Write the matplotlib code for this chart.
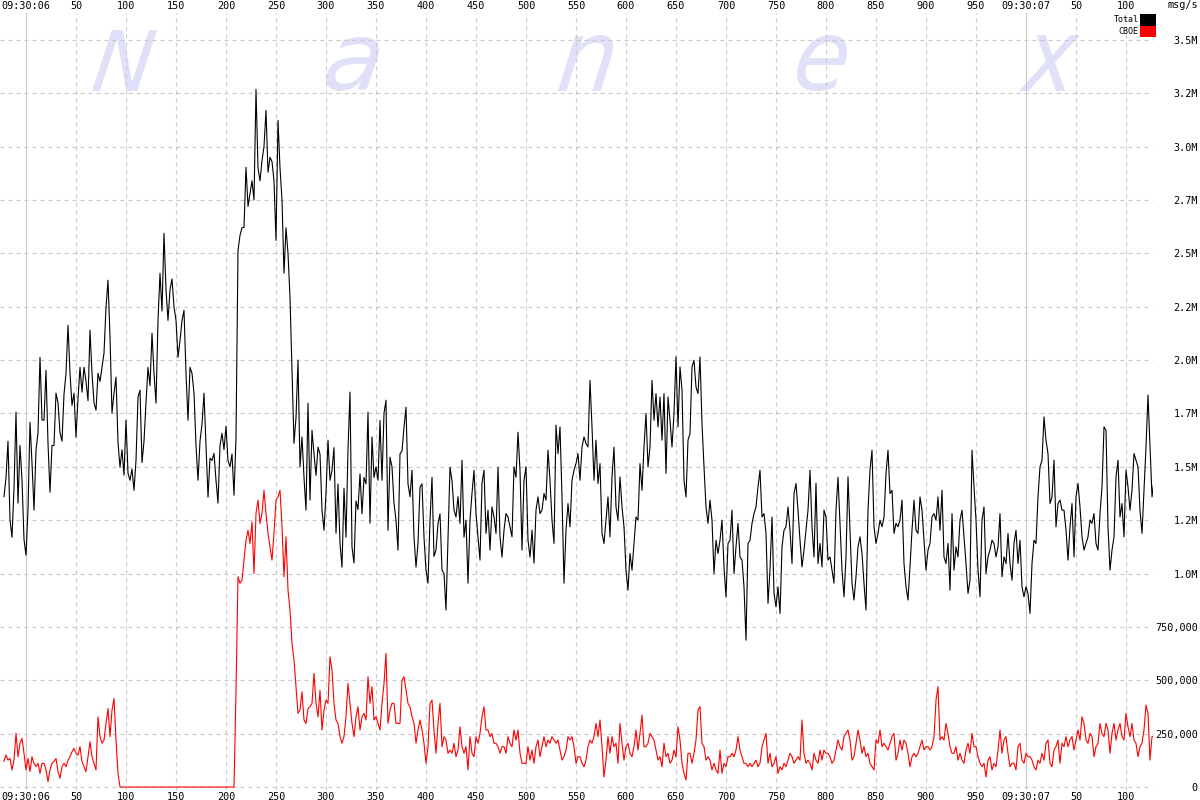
import numpy as np
import matplotlib
matplotlib.use("Agg")
import matplotlib.pyplot as plt
from matplotlib.patches import Patch, PathPatch
from matplotlib.textpath import TextPath
from matplotlib.font_manager import FontProperties
from matplotlib.transforms import Affine2D

# message rates in thousand msg/s, one value every 2 ms starting at -22 ms
t_start = -22
t_step = 2

total_k = [
    1360, 1450, 1620, 1250, 1170, 1400, 1756, 1330, 1600, 1437,  # -22
    1160, 1086, 1300, 1709, 1517, 1297, 1578, 1660, 2013, 1720,  # -2
    1718, 1952, 1610, 1381, 1600, 1600, 1845, 1800, 1660, 1620,  # 18
    1840, 1938, 2163, 1938, 1788, 1845, 1639, 1820, 1966, 1850,  # 38
    1966, 1900, 1810, 2140, 1938, 1800, 1765, 1938, 1900, 1966,  # 58
    2032, 2247, 2374, 2110, 1751, 1845, 1920, 1615, 1498, 1580,  # 78
    1461, 1718, 1470, 1437, 1490, 1390, 1530, 1826, 1859, 1520,  # 98
    1620, 1800, 1966, 1880, 2126, 1938, 1798, 2186, 2407, 2230,  # 118
    2594, 2330, 2186, 2330, 2380, 2250, 2186, 2013, 2090, 2186,  # 138
    2233, 1938, 1718, 1966, 1938, 1845, 1600, 1437, 1620, 1700,  # 158
    1845, 1600, 1358, 1540, 1530, 1563, 1437, 1330, 1600, 1657,  # 178
    1580, 1690, 1530, 1500, 1560, 1367, 1640, 2514, 2584, 2620,  # 198
    2622, 2903, 2720, 2780, 2840, 2750, 3268, 2900, 2840, 2935,  # 218
    3000, 3170, 2880, 2950, 2930, 2840, 2561, 3123, 2900, 2750,  # 238
    2407, 2620, 2500, 2294, 1950, 1610, 1730, 2000, 1500, 1640,  # 258
    1451, 1297, 1798, 1344, 1671, 1560, 1460, 1592, 1560, 1297,  # 278
    1203, 1375, 1625, 1437, 1484, 1590, 1189, 1420, 1142, 1030,  # 298
    1400, 1170, 1580, 1850, 1124, 1049, 1340, 1300, 1467, 1280,  # 318
    1450, 1420, 1756, 1236, 1640, 1450, 1500, 1437, 1717, 1437,  # 338
    1751, 1812, 1203, 1545, 1500, 1330, 1250, 1110, 1560, 1575,  # 358
    1685, 1779, 1420, 1360, 1484, 1170, 1030, 1140, 1405, 1420,  # 378
    1170, 1016, 955, 1250, 1451, 1080, 1110, 1235, 1280, 1016,  # 398
    1000, 829, 1170, 1498, 1435, 1297, 1265, 1360, 1235, 1531,  # 418
    1170, 1250, 955, 1250, 1376, 1484, 1281, 1172, 1063, 1423,  # 438
    1484, 1188, 1297, 1110, 1312, 1265, 1188, 1498, 1172, 1077,  # 458
    1203, 1281, 1265, 1219, 1172, 1500, 1451, 1662, 1484, 1110,  # 478
    1437, 1500, 1156, 1077, 1203, 1049, 1297, 1359, 1281, 1297,  # 498
    1375, 1344, 1578, 1437, 1250, 1141, 1695, 1562, 1687, 1359,  # 518
    955, 1203, 1328, 1219, 1437, 1484, 1515, 1562, 1437, 1593,  # 538
    1640, 1609, 1593, 1905, 1687, 1437, 1625, 1422, 1515, 1189,  # 558
    1141, 1250, 1359, 1172, 1453, 1592, 1312, 1250, 1453, 1312,  # 578
    1219, 1016, 922, 1094, 1016, 1141, 1265, 1250, 1515, 1390,  # 598
    1593, 1750, 1500, 1593, 1905, 1718, 1843, 1687, 1827, 1625,  # 618
    1843, 1469, 1827, 1718, 1593, 1750, 2015, 1687, 1968, 1859,  # 638
    1437, 1359, 1625, 1656, 1968, 1999, 1874, 1843, 2015, 1703,  # 658
    1500, 1312, 1235, 1344, 1250, 1000, 1156, 1094, 1156, 1250,  # 678
    1031, 891, 1141, 1156, 1297, 1000, 1125, 1235, 1078, 1063,  # 698
    938, 688, 1141, 1156, 1235, 1281, 1312, 1406, 1484, 1265,  # 718
    1281, 1188, 860, 1016, 1265, 907, 844, 938, 813, 1125,  # 738
    1203, 1219, 1312, 1203, 1047, 1375, 1422, 1297, 1156, 1031,  # 758
    1110, 1203, 1297, 1484, 1219, 1078, 1423, 1047, 1141, 1031,  # 778
    1297, 1265, 1063, 1078, 1016, 955, 1297, 1451, 1235, 1016,  # 798
    891, 1078, 1453, 1203, 954, 876, 985, 1125, 1172, 1094,  # 818
    954, 829, 1297, 1484, 1578, 1219, 1141, 1188, 1250, 1219,  # 838
    1265, 1468, 1578, 1375, 1390, 1188, 1235, 1219, 1250, 1344,  # 858
    1047, 938, 876, 1031, 1203, 1344, 1203, 1188, 1359, 1297,  # 878
    1156, 1016, 1110, 1141, 1265, 1281, 1250, 1359, 1203, 1390,  # 898
    1078, 1047, 1141, 922, 1281, 1016, 1125, 1078, 1250, 1297,  # 918
    1172, 1047, 907, 969, 1578, 1406, 1250, 1016, 891, 1250,  # 938
    1312, 1000, 1078, 1110, 1156, 1141, 1078, 1125, 1281, 985,  # 958
    1078, 1047, 1188, 1047, 969, 1141, 1203, 1047, 1156, 938,  # 978
    891, 938, 907, 813, 1047, 1156, 1141, 1359, 1500, 1531,  # 998
    1734, 1624, 1562, 1328, 1359, 1531, 1219, 1328, 1344, 1297,  # 1018
    1297, 1203, 1063, 1219, 1328, 1078, 1359, 1422, 1312, 1172,  # 1038
    1110, 1141, 1172, 1250, 1235, 1281, 1141, 1110, 1281, 1406,  # 1058
    1687, 1671, 1219, 1016, 1110, 1172, 1453, 1531, 1265, 1328,  # 1078
    1172, 1484, 1406, 1297, 1390, 1562, 1531, 1500, 1297, 1188,  # 1098
    1390, 1593, 1836, 1593, 1359, 1437,  # 1118
]

cboe_k = [
    120, 150, 126, 134, 80, 126, 251, 142, 205, 228,  # -22
    158, 80, 134, 72, 142, 111, 95, 111, 64, 111,  # -2
    111, 80, 25, 80, 111, 119, 134, 72, 41, 95,  # 18
    111, 95, 126, 142, 165, 181, 158, 150, 189, 119,  # 38
    95, 72, 142, 212, 142, 111, 80, 329, 236, 205,  # 58
    220, 298, 368, 236, 360, 415, 220, 64, 0, 0,  # 78
    0, 0, 0, 0, 0, 0, 0, 0, 0, 0,  # 98
    0, 0, 0, 0, 0, 0, 0, 0, 0, 0,  # 118
    0, 0, 0, 0, 0, 0, 0, 0, 0, 0,  # 138
    0, 0, 0, 0, 0, 0, 0, 0, 0, 0,  # 158
    0, 0, 0, 0, 0, 0, 0, 0, 0, 0,  # 178
    0, 0, 0, 0, 0, 0, 450, 985, 954, 969,  # 198
    1063, 1156, 1203, 1141, 1242, 1000, 1281, 1344, 1235, 1281,  # 218
    1390, 1281, 1188, 1125, 1063, 1188, 1344, 1359, 1390, 1219,  # 238
    985, 1172, 922, 829, 673, 595, 470, 345, 360, 446,  # 258
    314, 298, 368, 376, 392, 532, 392, 329, 453, 267,  # 278
    360, 407, 392, 610, 548, 392, 314, 298, 236, 205,  # 298
    236, 329, 485, 392, 298, 236, 329, 376, 267, 329,  # 318
    345, 314, 517, 392, 470, 314, 329, 298, 267, 392,  # 338
    485, 626, 298, 360, 392, 392, 298, 298, 298, 501,  # 358
    517, 453, 392, 376, 329, 298, 205, 267, 314, 267,  # 378
    205, 111, 189, 392, 407, 267, 158, 298, 392, 189,  # 398
    236, 220, 158, 173, 158, 205, 142, 173, 282, 189,  # 418
    158, 189, 80, 236, 158, 142, 236, 205, 251, 329,  # 438
    376, 267, 267, 236, 251, 205, 205, 189, 158, 189,  # 458
    189, 158, 236, 205, 189, 267, 220, 267, 158, 111,  # 478
    111, 111, 189, 126, 173, 111, 189, 220, 142, 189,  # 498
    236, 189, 220, 205, 236, 220, 205, 220, 173, 126,  # 518
    142, 173, 236, 220, 236, 189, 111, 142, 142, 111,  # 538
    95, 126, 189, 220, 205, 236, 298, 236, 314, 189,  # 558
    47, 126, 236, 158, 236, 189, 205, 111, 298, 205,  # 578
    126, 189, 205, 158, 142, 189, 267, 173, 251, 337,  # 598
    189, 189, 205, 251, 236, 220, 173, 126, 142, 95,  # 618
    205, 142, 158, 111, 126, 173, 142, 282, 220, 111,  # 638
    64, 33, 158, 158, 111, 158, 220, 360, 376, 205,  # 658
    189, 126, 142, 126, 80, 111, 80, 64, 173, 64,  # 678
    111, 95, 142, 142, 158, 142, 173, 236, 173, 142,  # 698
    111, 111, 95, 111, 95, 111, 126, 95, 111, 189,  # 718
    220, 251, 111, 158, 95, 111, 142, 64, 95, 80,  # 738
    111, 95, 126, 158, 142, 111, 126, 142, 126, 314,  # 758
    158, 111, 126, 111, 80, 158, 126, 111, 173, 126,  # 778
    173, 158, 158, 142, 111, 126, 173, 220, 189, 173,  # 798
    236, 251, 267, 220, 126, 142, 205, 267, 220, 158,  # 818
    189, 142, 158, 111, 95, 80, 220, 205, 267, 189,  # 838
    205, 189, 173, 205, 236, 251, 126, 158, 220, 173,  # 858
    220, 205, 158, 95, 142, 158, 142, 158, 189, 220,  # 878
    173, 189, 189, 173, 189, 236, 407, 470, 220, 236,  # 898
    220, 298, 251, 189, 158, 158, 189, 126, 158, 126,  # 918
    111, 173, 205, 158, 251, 189, 189, 142, 111, 95,  # 938
    111, 47, 126, 142, 80, 111, 95, 173, 267, 158,  # 958
    220, 236, 158, 95, 111, 111, 80, 189, 205, 126,  # 978
    111, 158, 142, 142, 126, 95, 80, 126, 111, 158,  # 998
    126, 205, 220, 111, 95, 173, 189, 220, 111, 205,  # 1018
    189, 236, 189, 220, 236, 173, 220, 267, 220, 329,  # 1038
    298, 220, 205, 251, 236, 142, 189, 205, 298, 251,  # 1058
    236, 298, 267, 158, 251, 298, 220, 267, 298, 236,  # 1078
    220, 345, 282, 236, 298, 220, 205, 142, 189, 205,  # 1098
    267, 384, 345, 126, 236, 236,  # 1118
]

x_ticks = [0, 50, 100, 150, 200, 250, 300, 350, 400, 450, 500, 550, 600,
           650, 700, 750, 800, 850, 900, 950, 1000, 1050, 1100]
x_labels = ['09:30:06', '50', '100', '150', '200', '250', '300', '350', '400',
            '450', '500', '550', '600', '650', '700', '750', '800', '850',
            '900', '950', '09:30:07', '50', '100']
y_ticks = [0, 250000, 500000, 750000, 1000000, 1250000, 1500000, 1750000,
           2000000, 2250000, 2500000, 2750000, 3000000, 3250000, 3500000]
y_labels = ['0', '250,000', '500,000', '750,000', '1.0M', '1.2M', '1.5M',
            '1.7M', '2.0M', '2.2M', '2.5M', '2.7M', '3.0M', '3.2M', '3.5M']

series_names = ['Total', 'CBOE']
series_colors = ['black', 'red']

plt.rcParams['font.family'] = 'DejaVu Sans Mono'

t_total = t_start + t_step * np.arange(len(total_k))
t_cboe = t_start + t_step * np.arange(len(cboe_k))

fig = plt.figure(figsize=(12, 8), dpi=100)
fig.patch.set_facecolor('white')
ax = fig.add_axes([0, 10 / 800, 1153 / 1200, 777 / 800])
ax.set_facecolor('none')

####### watermark #######
wm_color = '#e0e0f8'
fp = FontProperties(family='DejaVu Sans', style='italic')
wm_boxes = [('N', 92, 157, 30), ('a', 326, 379, 37), ('n', 558, 613, 35),
            ('e', 797, 847, 35), ('x', 1019, 1080, 35)]
for ch, xl, xr, yt in wm_boxes:
    p = TextPath((0, 0), ch, size=100, prop=fp)
    p = Affine2D().skew_deg(8, 0).transform_path(p)
    bb = p.get_extents()
    tr = (Affine2D().translate(-bb.x0, -bb.y0)
          .scale((xr - xl) / bb.width, (91 - yt) / bb.height)
          .translate(xl, 800 - 91)
          .scale(1 / 1200, 1 / 800))
    fig.add_artist(PathPatch(tr.transform_path(p), transform=fig.transFigure,
                             facecolor=wm_color, edgecolor='none', zorder=-1))

####### grid #######
grid_col = '#c8c8c8'
for x in x_ticks:
    if x in (0, 1000):
        ax.axvline(x, color=grid_col, lw=0.8, zorder=1)
    else:
        ax.axvline(x, color=grid_col, lw=0.8, ls=(0, (3.6, 3.6)), zorder=1)
for y in y_ticks:
    ax.axhline(y, color=grid_col, lw=0.8, ls=(0, (3.6, 3.6)), zorder=1)

####### series #######
ax.plot(t_total, np.array(total_k) * 1000, color=series_colors[0], lw=0.8, zorder=3)
ax.plot(t_cboe, np.array(cboe_k) * 1000, color=series_colors[1], lw=0.8, zorder=4)

ax.set_xlim(-26, 1127)
ax.set_ylim(-14000, 3626000)

for s in ax.spines.values():
    s.set_visible(False)

ax.set_xticks(x_ticks, x_labels)
ax.tick_params(axis='x', length=0, pad=1.5, labelsize=7.3,
               top=True, labeltop=True, bottom=True, labelbottom=True)
ax.yaxis.tick_right()
ax.set_yticks(y_ticks, y_labels)
ax.tick_params(axis='y', length=0, pad=32.4, labelsize=7.3)
plt.setp(ax.get_yticklabels(), ha='right')

fig.text(1198 / 1200, 1 - 5 / 800, 'msg/s', ha='right', va='center', fontsize=7.3)

handles = [Patch(facecolor=c, edgecolor='none', label=n)
           for n, c in zip(series_names, series_colors)]
fig.legend(handles=handles, loc='upper right',
           bbox_to_anchor=(1156 / 1200, 1 - 14 / 800),
           frameon=False, markerfirst=False, fontsize=6,
           handlelength=1.9, handleheight=1.75, handletextpad=0.2,
           labelspacing=0.0, borderpad=0, borderaxespad=0)

fig.savefig('out.png', dpi=100, facecolor='white')
